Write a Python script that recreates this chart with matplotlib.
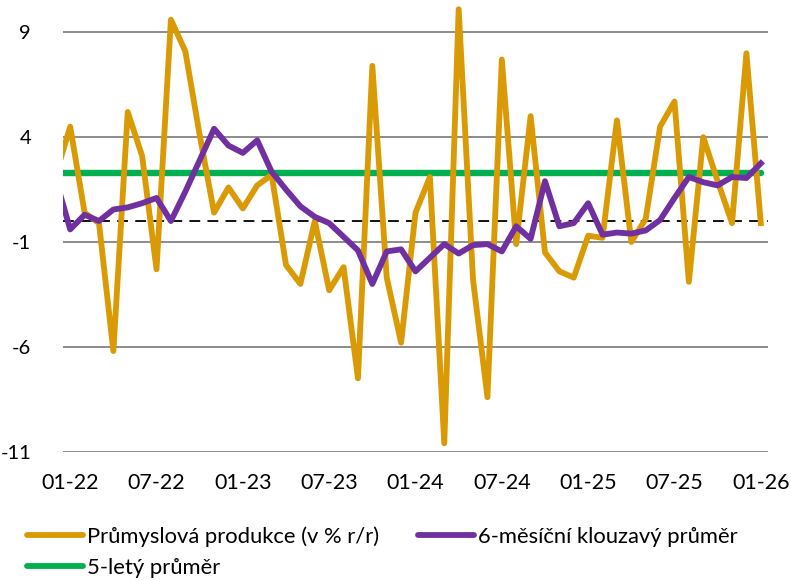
import matplotlib.pyplot as plt
import numpy as np
from matplotlib.lines import Line2D

plt.rcParams['font.family'] = ['Lato', 'DejaVu Sans']
plt.rcParams['axes.unicode_minus'] = False

# months 12-21 .. 01-26 (first one sits left of the axis and gets clipped)
prod = [2.2, 4.5, 0.4, -0.1, -6.2, 5.2, 3.1, -2.3, 9.6, 8.1, 4.1, 0.4, 1.6,
        0.6, 1.7, 2.2, -2.1, -3.0, 0.0, -3.3, -2.2, -7.5, 7.4, -2.7, -5.8,
        0.4, 2.1, -10.6, 10.1, -2.8, -8.4, 7.7, -1.1, 5.0, -1.5, -2.4, -2.7,
        -0.7, -0.8, 4.8, -1.0, 0.1, 4.5, 5.7, -2.9, 4.0, 1.9, -0.1, 8.0, -0.1]
ma6 = [2.0, -0.4, 0.3, 0.0, 0.55, 0.65, 0.85, 1.1, 0.0, 1.4, 2.9, 4.4, 3.6,
       3.25, 3.85, 2.35, 1.5, 0.7, 0.2, -0.1, -0.75, -1.4, -3.0, -1.45, -1.35,
       -2.4, -1.75, -1.1, -1.55, -1.15, -1.1, -1.45, -0.25, -0.85, 1.9, -0.25,
       -0.1, 0.85, -0.65, -0.55, -0.6, -0.45, 0.05, 1.1, 2.1, 1.85, 1.7, 2.1,
       2.05, 2.75]
avg5 = 2.3

xlabels = ['01-22', '07-22', '01-23', '07-23', '01-24', '07-24', '01-25',
           '07-25', '01-26']
yticks = [-11, -6, -1, 4, 9]

c_prod = '#DA9A05'
c_ma = '#7030A0'
c_avg = '#00B050'

x = np.arange(len(prod)) - 1

fig = plt.figure(figsize=(7.91, 5.80), dpi=100)
ax = fig.add_axes([63/791, 1 - 451.7/580, 705/791, 451.7/580])

for v in yticks:
    ax.axhline(v, color='#8C8C8C', lw=1.4, zorder=1)
ax.axhline(0, color='black', lw=1.3, ls=(0, (6, 4)), zorder=2)

ax.plot(x, np.full(len(x), avg5), color=c_avg, lw=4.6, solid_capstyle='round', zorder=3)
ax.plot(x, prod, color=c_prod, lw=4.2, zorder=4)
ax.plot(x, ma6, color=c_ma, lw=4.2, zorder=5)

ax.set_xlim(-0.5, 48.5)
ax.set_ylim(-11, 10.54)
ax.set_yticks(yticks)
ax.set_xticks(np.arange(0, 49, 6))
ax.set_xticklabels(xlabels)
ax.tick_params(length=0, labelsize=15.5)
ax.tick_params(axis='y', pad=23, labelsize=14.5)
ax.tick_params(axis='x', pad=15)
for s in ax.spines.values():
    s.set_visible(False)

handles = [Line2D([], [], color=c_prod, lw=4.2, solid_capstyle='round'),
           Line2D([], [], color=c_avg, lw=4.2, solid_capstyle='round'),
           Line2D([], [], color=c_ma, lw=4.2, solid_capstyle='round')]
labels = ['Průmyslová produkce (v % r/r)', '5-letý průměr', '6-měsíční klouzavý průměr']
fig.legend(handles, labels, loc='upper left', bbox_to_anchor=(27/791, 1 - 526/580),
           ncol=2, frameon=False, fontsize=15.8, handlelength=2.55, handletextpad=0.2,
           columnspacing=1.75, labelspacing=0.5, borderpad=0, borderaxespad=0)

fig.savefig('out.png', dpi=100)
